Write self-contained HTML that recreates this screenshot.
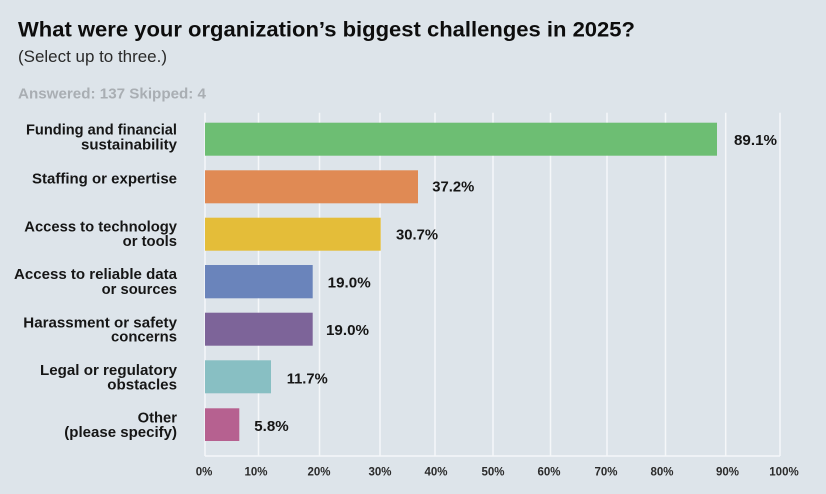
<!DOCTYPE html>
<html>
<head>
<meta charset="utf-8">
<style>
  html,body{margin:0;padding:0;background:#dde4ea;}
  svg{display:block;}
  text{font-family:"Liberation Sans",Arial,sans-serif;}
  .cat{font-weight:bold;font-size:14.5px;fill:#161616;}
  .val{font-weight:bold;font-size:15px;fill:#161616;}
  .tick{font-weight:bold;font-size:11.5px;fill:#2b2b2b;}
</style>
</head>
<body>
<svg width="826" height="494" viewBox="0 0 826 494" xmlns="http://www.w3.org/2000/svg">
  <rect x="0" y="0" width="826" height="494" fill="#dde4ea"/>

  <!-- Title -->
  <text x="18" y="36.5" font-size="21" font-weight="bold" fill="#0d0d0d" textLength="617" lengthAdjust="spacingAndGlyphs">What were your organization’s biggest challenges in 2025?</text>
  <text x="18" y="62" font-size="16.5" fill="#2a2a2a" textLength="149" lengthAdjust="spacingAndGlyphs">(Select up to three.)</text>
  <text x="18" y="98.3" font-size="14.5" font-weight="bold" fill="#a9aeb3" textLength="188" lengthAdjust="spacingAndGlyphs">Answered: 137  Skipped: 4</text>

  <!-- gridlines -->
  <g stroke="#f5f7f9" stroke-width="1.5">
    <line x1="205" y1="112.7" x2="205" y2="456"/>
    <line x1="258.5" y1="112.7" x2="258.5" y2="456"/>
    <line x1="319.5" y1="112.7" x2="319.5" y2="456"/>
    <line x1="380" y1="112.7" x2="380" y2="456"/>
    <line x1="435" y1="112.7" x2="435" y2="456"/>
    <line x1="493" y1="112.7" x2="493" y2="456"/>
    <line x1="550.5" y1="112.7" x2="550.5" y2="456"/>
    <line x1="607" y1="112.7" x2="607" y2="456"/>
    <line x1="665.5" y1="112.7" x2="665.5" y2="456"/>
    <line x1="725.7" y1="112.7" x2="725.7" y2="456"/>
    <line x1="780" y1="112.7" x2="780" y2="456"/>
    <line x1="205" y1="456" x2="780" y2="456"/>
  </g>

  <!-- bars -->
  <rect x="205" y="122.7" width="512" height="33" fill="#6dbe73"/>
  <rect x="205" y="170.3" width="213" height="33" fill="#e08a54"/>
  <rect x="205" y="217.7" width="175.7" height="33" fill="#e4bd39"/>
  <rect x="205" y="265" width="107.7" height="33.3" fill="#6a84bb"/>
  <rect x="205" y="312.7" width="107.7" height="33" fill="#7d6499"/>
  <rect x="205" y="360.3" width="66" height="33" fill="#88bfc3"/>
  <rect x="205" y="408.3" width="34.3" height="32.7" fill="#b66190"/>

  <!-- value labels -->
  <text class="val" x="734" y="145" textLength="43" lengthAdjust="spacingAndGlyphs">89.1%</text>
  <text class="val" x="432.3" y="191.7" textLength="42" lengthAdjust="spacingAndGlyphs">37.2%</text>
  <text class="val" x="396" y="239.3" textLength="42" lengthAdjust="spacingAndGlyphs">30.7%</text>
  <text class="val" x="327.7" y="287.3" textLength="43" lengthAdjust="spacingAndGlyphs">19.0%</text>
  <text class="val" x="326" y="335" textLength="43" lengthAdjust="spacingAndGlyphs">19.0%</text>
  <text class="val" x="286.7" y="383.3" textLength="41" lengthAdjust="spacingAndGlyphs">11.7%</text>
  <text class="val" x="254.3" y="431" textLength="34.4" lengthAdjust="spacingAndGlyphs">5.8%</text>

  <!-- category labels -->
  <g text-anchor="end">
    <text class="cat" x="177" y="134.3" textLength="151" lengthAdjust="spacingAndGlyphs">Funding and financial</text>
    <text class="cat" x="177" y="149.5" textLength="96" lengthAdjust="spacingAndGlyphs">sustainability</text>
    <text class="cat" x="177" y="183.3" textLength="145" lengthAdjust="spacingAndGlyphs">Staffing or expertise</text>
    <text class="cat" x="177" y="231.7" textLength="152.7" lengthAdjust="spacingAndGlyphs">Access to technology</text>
    <text class="cat" x="177" y="246" textLength="54.3" lengthAdjust="spacingAndGlyphs">or tools</text>
    <text class="cat" x="177" y="279" textLength="163" lengthAdjust="spacingAndGlyphs">Access to reliable data</text>
    <text class="cat" x="177" y="294" textLength="75.3" lengthAdjust="spacingAndGlyphs">or sources</text>
    <text class="cat" x="177" y="327.3" textLength="153.7" lengthAdjust="spacingAndGlyphs">Harassment or safety</text>
    <text class="cat" x="177" y="341.7" textLength="66" lengthAdjust="spacingAndGlyphs">concerns</text>
    <text class="cat" x="177" y="375" textLength="137" lengthAdjust="spacingAndGlyphs">Legal or regulatory</text>
    <text class="cat" x="177" y="389.3" textLength="69.7" lengthAdjust="spacingAndGlyphs">obstacles</text>
    <text class="cat" x="177" y="422.3" textLength="39.3" lengthAdjust="spacingAndGlyphs">Other</text>
    <text class="cat" x="177" y="437" textLength="112.7" lengthAdjust="spacingAndGlyphs">(please specify)</text>
  </g>

  <!-- tick labels -->
  <g text-anchor="middle">
    <text class="tick" x="204" y="475.5">0%</text>
    <text class="tick" x="256" y="475.5">10%</text>
    <text class="tick" x="319" y="475.5">20%</text>
    <text class="tick" x="380" y="475.5">30%</text>
    <text class="tick" x="436" y="475.5">40%</text>
    <text class="tick" x="493" y="475.5">50%</text>
    <text class="tick" x="549" y="475.5">60%</text>
    <text class="tick" x="606" y="475.5">70%</text>
    <text class="tick" x="662" y="475.5">80%</text>
    <text class="tick" x="727.5" y="475.5">90%</text>
    <text class="tick" x="784" y="475.5">100%</text>
  </g>
</svg>
</body>
</html>
